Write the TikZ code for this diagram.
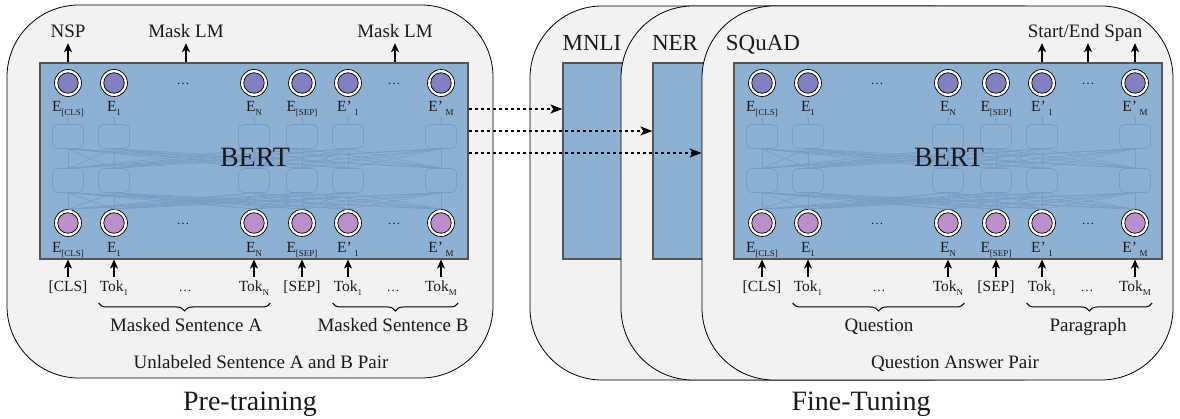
\documentclass[tikz,border=0pt]{standalone}
\usepackage{fontspec}
\setmainfont{Liberation Serif}
\usetikzlibrary{decorations.pathreplacing,arrows.meta,calc}

\definecolor{panelfill}{HTML}{F2F2F2}
\definecolor{bertfill}{HTML}{8DB1D3}
\definecolor{bertline}{HTML}{555555}
\definecolor{outc}{HTML}{8080C2}
\definecolor{inc}{HTML}{BA8FCB}
\definecolor{faint}{HTML}{789EC4}
\definecolor{txt}{HTML}{1A1A1A}

\newcommand\fs[1]{\fontsize{#1}{#1}\selectfont}
\newcommand\sbs[1]{\raisebox{-3.5pt}{\fs{9}#1}}

\tikzset{
  panel/.style={draw=black, line width=0.8pt, fill=panelfill, rounded corners=72pt, inner sep=0},
  bertbox/.style={draw=bertline, line width=1.2pt, fill=bertfill, inner sep=0, minimum width=428pt, minimum height=196pt},
  fbox/.style={draw=faint, line width=0.6pt, fill=bertfill, rounded corners=5pt, minimum width=31pt, minimum height=24pt, inner sep=0},
  faintln/.style={draw=faint, line width=0.6pt},
  ring/.style={circle, draw=black, line width=0.7pt, fill=white, minimum size=27pt, inner sep=0},
  dotc/.style={circle, draw=black, line width=0.7pt, fill=#1, minimum size=20.5pt, inner sep=0},
  lab/.style={anchor=base, font=\fs{15.5}, inner sep=1pt, text=txt},
  tok/.style={anchor=base, font=\fs{15.5}, inner sep=1pt, text height=11pt, text depth=3pt, text=txt},
  dts/.style={anchor=base, font=\fs{13}, inner sep=0, text=txt},
  toplab/.style={anchor=base, font=\fs{19}, text depth=2pt, inner sep=3pt, text=txt},
  brlab/.style={anchor=base, font=\fs{19}, inner sep=1pt, text=txt},
  tasklab/.style={anchor=base, font=\fs{23}, inner sep=1pt, text=txt},
  caplab/.style={anchor=base, font=\fs{28}, inner sep=1pt, text=txt},
  arr/.style={-{Stealth[length=9pt,width=8pt,inset=2.5pt]}, line width=1.3pt, draw=black},
  dotarr/.style={dash pattern=on 3pt off 3pt, line width=1.3pt, draw=black, -{Stealth[length=12pt,width=9pt,inset=3pt]}},
  brc/.style={decorate, decoration={brace, mirror, amplitude=8pt}, line width=1pt, draw=black},
}

\newcommand\bertblock[2]{%
\begin{scope}[xshift=#2pt]
\node[bertbox] (#1bert) at (254,161) {};
\foreach \x [count=\i] in {68,114,254,302,348,441}{
  \node[fbox] (#1ra\i) at (\x,136.5) {};
  \node[fbox] (#1rb\i) at (\x,180.5) {};
  \node[ring] (#1bo\i) at (\x,223) {};
  \node[dotc=inc] (#1bi\i) at (\x,223) {};
  \node[ring] (#1to\i) at (\x,83) {};
  \node[dotc=outc] (#1ti\i) at (\x,83) {};
}
\foreach \i in {1,...,6}{\foreach \j in {1,...,6}{
  \draw[faintln] (#1ra\i.south) -- (#1rb\j.north);
  \draw[faintln] (#1rb\i.south) -- (#1bo\j.north);
}}
\foreach \x/\t [count=\i] in {68/{E\sbs{[CLS]}},114/{E\sbs{1}},254/{E\sbs{N}},302/{E\sbs{[SEP]}},348/{E’\,\sbs{1}},441/{E’\,\sbs{M}}}{
  \node[lab] (#1lt\i) at (\x,112) {\t};
  \node[lab] (#1lb\i) at (\x,253) {\t};
  \draw[faintln,-{Stealth[length=2.5pt,width=2.5pt]}] (#1ra\i.north) -- (#1ra\i.north |- #1lt\i.south);
}
\foreach \x/\t [count=\i] in {68/{[CLS]},114/{Tok\sbs{1}},254/{Tok\sbs{N}},302/{[SEP]},348/{Tok\sbs{1}},441/{Tok\sbs{M}}}{
  \node[tok] (#1t\i) at (\x,292) {\t};
  \draw[arr, shorten <=3pt] (#1t\i.north) -- (#1t\i.north |- #1bert.south);
}
\node[dts] (#1dta) at (183,85) {\dots};
\node[dts] (#1dtb) at (394,85) {\dots};
\node[dts] (#1dba) at (183,225) {\dots};
\node[dts] (#1dbb) at (394,225) {\dots};
\node[dts] (#1dka) at (185,292) {\dots};
\node[dts] (#1dkb) at (393,292) {\dots};
\node[anchor=base, font=\fs{28}, inner sep=0, text=txt] (#1title) at (255,167) {BERT};
\end{scope}}

\begin{document}
\begin{tikzpicture}[x=1pt,y=-1pt]
\useasboundingbox (0,0) rectangle (1180,419);

% ---------- Pre-training ----------
\node[panel, minimum width=486pt, minimum height=373pt] (pre) at (250,191.5) {};
\bertblock{p}{0}
\node[toplab] (nsp) at (68,38) {NSP};
\node[toplab] (mlma) at (186,38) {Mask LM};
\node[toplab] (mlmb) at (395,38) {Mask LM};
\draw[arr] (nsp.south |- pbert.north) -- (nsp.south);
\draw[arr] (mlma.south |- pbert.north) -- (mlma.south);
\draw[arr] (mlmb.south |- pbert.north) -- (mlmb.south);
\draw[brc] (pt2.west |- 0,303) -- (pt3.east |- 0,303);
\draw[brc] (pt5.west |- 0,303) -- (pt6.east |- 0,303);
\node[brlab] (msa) at (186,332) {Masked Sentence A};
\node[brlab] (msb) at (393,332) {Masked Sentence B};
\node[brlab] (pcap) at (261,368) {Unlabeled Sentence A and B Pair};
\node[caplab] (pretr) at (250,410) {Pre-training};

% ---------- Fine-tuning ----------
\node[panel, minimum width=471pt, minimum height=374pt] (mnli) at (765.5,193) {};
\node[bertbox] (mnlibert) at (777,161) {};
\node[tasklab] (mnlilab) at (592,51) {MNLI};
\node[panel, minimum width=471pt, minimum height=374pt] (ner) at (856.5,193) {};
\node[bertbox] (nerbert) at (867,161) {};
\node[tasklab] (nerlab) at (675,51) {NER};
\node[panel, minimum width=471pt, minimum height=374pt] (squad) at (937.5,193) {};
\bertblock{s}{694}
\node[tasklab] (squadlab) at (763,51) {SQuAD};
\node[toplab] (span) at (1085,38) {Start/End Span};
\draw[arr] (sti5 |- sbert.north) -- (sti5 |- span.south);
\draw[arr] (sdtb |- sbert.north) -- (sdtb |- span.south);
\draw[arr] (sti6 |- sbert.north) -- (sti6 |- span.south);
\draw[brc] (st2.west |- 0,303) -- (st3.east |- 0,303);
\draw[brc] (st5.west |- 0,303) -- (st6.east |- 0,303);
\node[brlab] (quest) at (879,332) {Question};
\node[brlab] (para) at (1088,332) {Paragraph};
\node[brlab] (scap) at (955,368) {Question Answer Pair};
\node[caplab] (fine) at (861,410) {Fine-Tuning};

% ---------- transfer arrows ----------
\draw[dotarr] (pbert.east |- 0,109) -- (mnlibert.west |- 0,109);
\draw[dotarr] (pbert.east |- 0,131) -- (nerbert.west |- 0,131);
\draw[dotarr] (pbert.east |- 0,153) -- (squad.west |- 0,153);
\end{tikzpicture}
\end{document}
